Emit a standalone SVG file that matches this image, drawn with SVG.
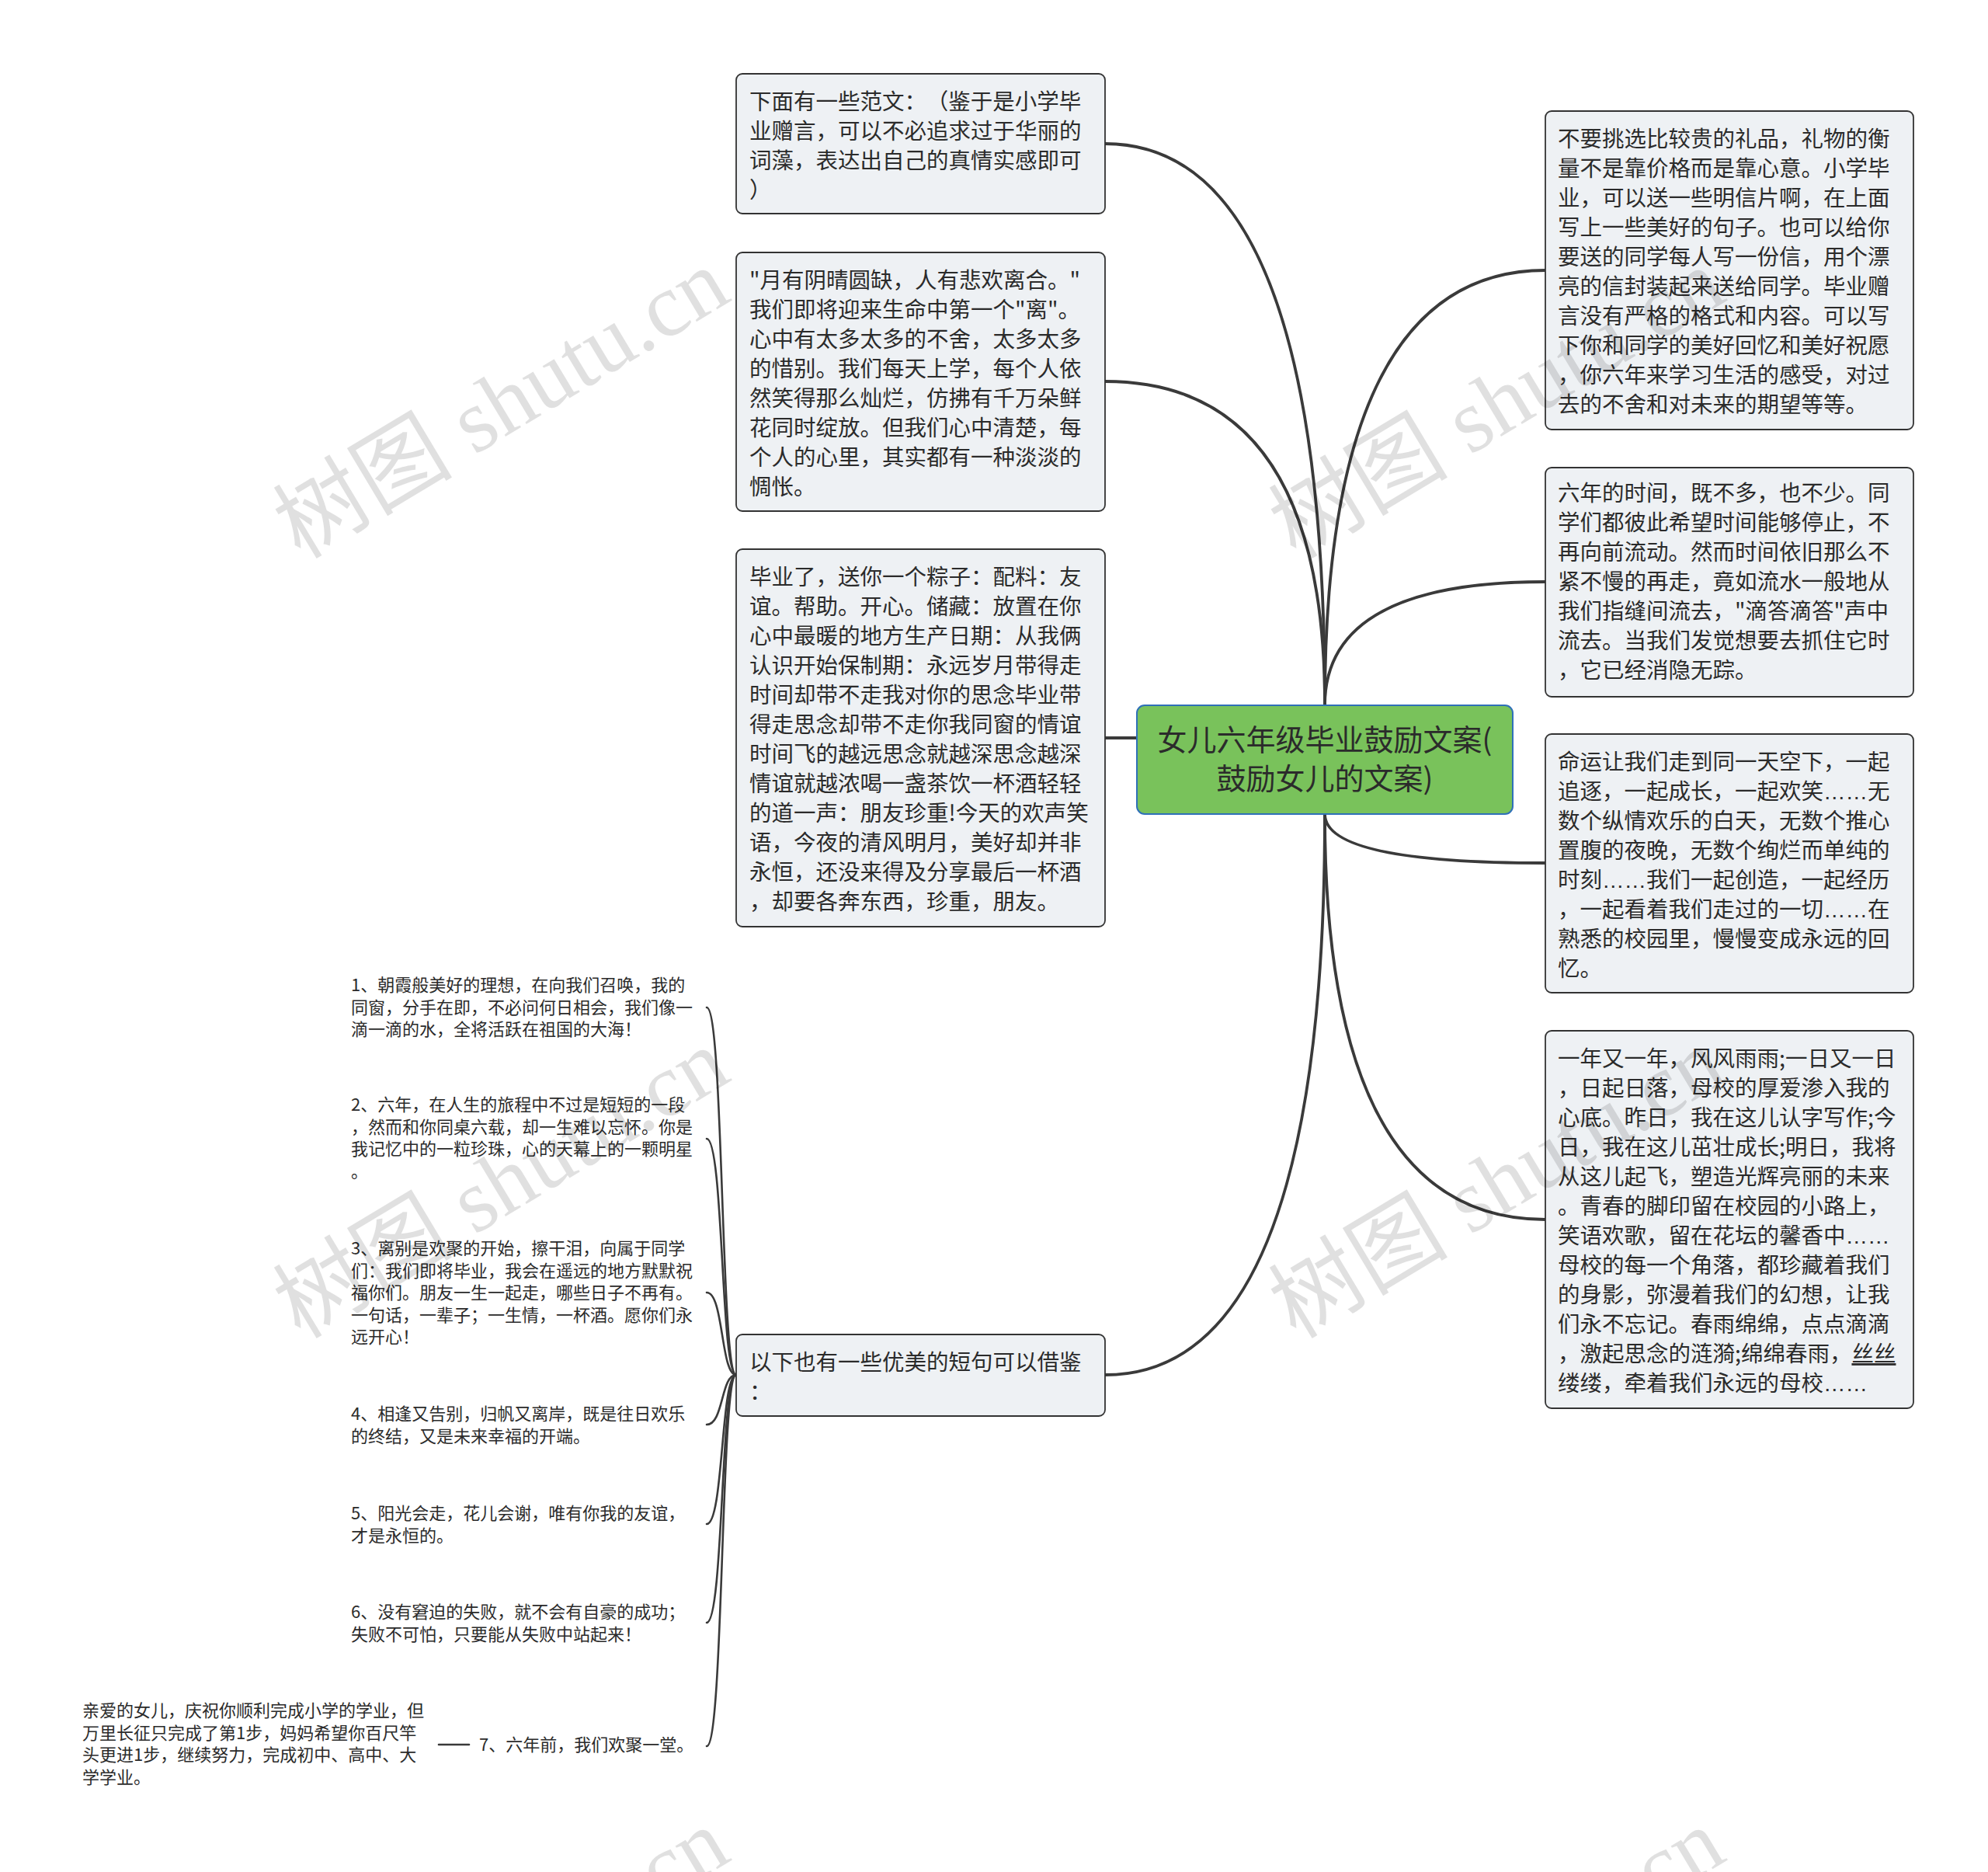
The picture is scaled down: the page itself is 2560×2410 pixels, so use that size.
<svg xmlns="http://www.w3.org/2000/svg" width="2560" height="2410" viewBox="0 0 2560 2410">
<style>
.bg{fill:#ffffff}
.box{fill:#eef1f4;stroke:#333333;stroke-width:1.8}
.root{fill:#79c25b;stroke:#2f70b8;stroke-width:2}
.t{font-family:"Noto Sans CJK SC","Noto Sans",sans-serif;font-size:28.5px;fill:#2b2b2b}
.rt{font-family:"Noto Sans CJK SC","Noto Sans",sans-serif;font-size:38px;fill:#2b2b2b;text-anchor:middle}
.s{font-family:"Noto Sans CJK SC","Noto Sans",sans-serif;font-size:22px;fill:#2b2b2b}
.el{font-family:"Liberation Sans",sans-serif}
.main{fill:none;stroke:#3a3a3a;stroke-width:3.8;stroke-linecap:round}
.sub{fill:none;stroke:#3a3a3a;stroke-width:2.6;stroke-linecap:round}
.wm{font-family:"Liberation Serif","Noto Sans CJK SC",serif;font-size:116px;fill:#000000;fill-opacity:0.12;text-anchor:middle}
</style>
<rect class="bg" x="0" y="0" width="2560" height="2410"/>
<g id="connectors">
<path class="main" d="M1706 908 Q1706 185 1423 185"/>
<path class="main" d="M1706 908 Q1706 491 1423 491"/>
<path class="main" d="M1706 950 L1423 950"/>
<path class="main" d="M1706 1048 Q1706 1770 1423 1770"/>
<path class="main" d="M1706 908 Q1706 348 1990 348"/>
<path class="main" d="M1706 908 Q1706 749 1990 749"/>
<path class="main" d="M1706 1048 Q1706 1111 1990 1111"/>
<path class="main" d="M1706 1048 Q1706 1570 1990 1570"/>
<path class="sub" d="M948 1770 C928 1770 932 1297 910 1297"/>
<path class="sub" d="M948 1770 C928 1770 932 1466 910 1466"/>
<path class="sub" d="M948 1770 C928 1770 932 1664 910 1664"/>
<path class="sub" d="M948 1770 C928 1770 932 1834 910 1834"/>
<path class="sub" d="M948 1770 C928 1770 932 1962 910 1962"/>
<path class="sub" d="M948 1770 C928 1770 932 2089 910 2089"/>
<path class="sub" d="M948 1770 C928 1770 932 2248 910 2248"/>
<path class="sub" d="M565 2246 L604 2246"/>
</g>
<g id="root">
<rect class="root" x="1464" y="908" width="484" height="140" rx="10"/>
<text class="rt" x="1706" y="966">女儿六年级毕业鼓励文案(</text>
<text class="rt" x="1706" y="1016">鼓励女儿的文案)</text>
</g>
<g id="n1">
<rect class="box" x="948" y="95" width="475" height="180" rx="8"/>
<text class="t" x="965" y="141"><tspan x="965">下面有一些范文：</tspan><tspan dx="14">（鉴于是小学毕</tspan><tspan x="965" dy="38">业赠言，可以不必追求过于华丽的</tspan><tspan x="965" dy="38">词藻，表达出自己的真情实感即可</tspan><tspan x="965" dy="38">）</tspan></text>
</g>
<g id="n2">
<rect class="box" x="948" y="325" width="475" height="333" rx="8"/>
<text class="t" x="965" y="371"><tspan x="965">"月有阴晴圆缺，人有悲欢离合。"</tspan><tspan x="965" dy="38">我们即将迎来生命中第一个"离"。</tspan><tspan x="965" dy="38">心中有太多太多的不舍，太多太多</tspan><tspan x="965" dy="38">的惜别。我们每天上学，每个人依</tspan><tspan x="965" dy="38">然笑得那么灿烂，仿拂有千万朵鲜</tspan><tspan x="965" dy="38">花同时绽放。但我们心中清楚，每</tspan><tspan x="965" dy="38">个人的心里，其实都有一种淡淡的</tspan><tspan x="965" dy="38">惆怅。</tspan></text>
</g>
<g id="n3">
<rect class="box" x="948" y="707" width="475" height="486" rx="8"/>
<text class="t" x="965" y="753"><tspan x="965">毕业了，送你一个粽子：配料：友</tspan><tspan x="965" dy="38">谊。帮助。开心。储藏：放置在你</tspan><tspan x="965" dy="38">心中最暖的地方生产日期：从我俩</tspan><tspan x="965" dy="38">认识开始保制期：永远岁月带得走</tspan><tspan x="965" dy="38">时间却带不走我对你的思念毕业带</tspan><tspan x="965" dy="38">得走思念却带不走你我同窗的情谊</tspan><tspan x="965" dy="38">时间飞的越远思念就越深思念越深</tspan><tspan x="965" dy="38">情谊就越浓喝一盏茶饮一杯酒轻轻</tspan><tspan x="965" dy="38">的道一声：朋友珍重!今天的欢声笑</tspan><tspan x="965" dy="38">语，今夜的清风明月，美好却并非</tspan><tspan x="965" dy="38">永恒，还没来得及分享最后一杯酒</tspan><tspan x="965" dy="38">，却要各奔东西，珍重，朋友。</tspan></text>
</g>
<g id="n4">
<rect class="box" x="948" y="1718" width="475" height="105" rx="8"/>
<text class="t" x="965" y="1764"><tspan x="965">以下也有一些优美的短句可以借鉴</tspan><tspan x="965" dy="38">：</tspan></text>
</g>
<g id="r1">
<rect class="box" x="1990" y="143" width="474" height="410" rx="8"/>
<text class="t" x="2006" y="189"><tspan x="2006">不要挑选比较贵的礼品，礼物的衡</tspan><tspan x="2006" dy="38">量不是靠价格而是靠心意。小学毕</tspan><tspan x="2006" dy="38">业，可以送一些明信片啊，在上面</tspan><tspan x="2006" dy="38">写上一些美好的句子。也可以给你</tspan><tspan x="2006" dy="38">要送的同学每人写一份信，用个漂</tspan><tspan x="2006" dy="38">亮的信封装起来送给同学。毕业赠</tspan><tspan x="2006" dy="38">言没有严格的格式和内容。可以写</tspan><tspan x="2006" dy="38">下你和同学的美好回忆和美好祝愿</tspan><tspan x="2006" dy="38">，你六年来学习生活的感受，对过</tspan><tspan x="2006" dy="38">去的不舍和对未来的期望等等。</tspan></text>
</g>
<g id="r2">
<rect class="box" x="1990" y="602" width="474" height="295" rx="8"/>
<text class="t" x="2006" y="645"><tspan x="2006">六年的时间，既不多，也不少。同</tspan><tspan x="2006" dy="38">学们都彼此希望时间能够停止，不</tspan><tspan x="2006" dy="38">再向前流动。然而时间依旧那么不</tspan><tspan x="2006" dy="38">紧不慢的再走，竟如流水一般地从</tspan><tspan x="2006" dy="38">我们指缝间流去，"滴答滴答"声中</tspan><tspan x="2006" dy="38">流去。当我们发觉想要去抓住它时</tspan><tspan x="2006" dy="38">，它已经消隐无踪。</tspan></text>
</g>
<g id="r3">
<rect class="box" x="1990" y="945" width="474" height="333" rx="8"/>
<text class="t" x="2006" y="991"><tspan x="2006">命运让我们走到同一天空下，一起</tspan><tspan x="2006" dy="38">追逐，一起成长，一起欢笑<tspan class="el">……</tspan>无</tspan><tspan x="2006" dy="38">数个纵情欢乐的白天，无数个推心</tspan><tspan x="2006" dy="38">置腹的夜晚，无数个绚烂而单纯的</tspan><tspan x="2006" dy="38">时刻<tspan class="el">……</tspan>我们一起创造，一起经历</tspan><tspan x="2006" dy="38">，一起看着我们走过的一切<tspan class="el">……</tspan>在</tspan><tspan x="2006" dy="38">熟悉的校园里，慢慢变成永远的回</tspan><tspan x="2006" dy="38">忆。</tspan></text>
</g>
<g id="r4">
<rect class="box" x="1990" y="1327" width="474" height="486" rx="8"/>
<text class="t" x="2006" y="1373"><tspan x="2006">一年又一年，风风雨雨;一日又一日</tspan><tspan x="2006" dy="38">，日起日落，母校的厚爱渗入我的</tspan><tspan x="2006" dy="38">心底。昨日，我在这儿认字写作;今</tspan><tspan x="2006" dy="38">日，我在这儿茁壮成长;明日，我将</tspan><tspan x="2006" dy="38">从这儿起飞，塑造光辉亮丽的未来</tspan><tspan x="2006" dy="38">。青春的脚印留在校园的小路上，</tspan><tspan x="2006" dy="38">笑语欢歌，留在花坛的馨香中<tspan class="el">……</tspan></tspan><tspan x="2006" dy="38">母校的每一个角落，都珍藏着我们</tspan><tspan x="2006" dy="38">的身影，弥漫着我们的幻想，让我</tspan><tspan x="2006" dy="38">们永不忘记。春雨绵绵，点点滴滴</tspan><tspan x="2006" dy="38">，激起思念的涟漪;绵绵春雨，<tspan text-decoration="underline">丝丝</tspan></tspan><tspan x="2006" dy="38">缕缕，牵着我们永远的母校<tspan class="el">……</tspan></tspan></text>
</g>
<g id="i1">
<text class="s" x="452" y="1276"><tspan x="452">1、朝霞般美好的理想，在向我们召唤，我的</tspan><tspan x="452" dy="28.5">同窗，分手在即，不必问何日相会，我们像一</tspan><tspan x="452" dy="28.5">滴一滴的水，全将活跃在祖国的大海！</tspan></text>
</g>
<g id="i2">
<text class="s" x="452" y="1430"><tspan x="452">2、六年，在人生的旅程中不过是短短的一段</tspan><tspan x="452" dy="28.5">，然而和你同桌六载，却一生难以忘怀。你是</tspan><tspan x="452" dy="28.5">我记忆中的一粒珍珠，心的天幕上的一颗明星</tspan><tspan x="452" dy="28.5">。</tspan></text>
</g>
<g id="i3">
<text class="s" x="452" y="1615"><tspan x="452">3、离别是欢聚的开始，擦干泪，向属于同学</tspan><tspan x="452" dy="28.5">们：我们即将毕业，我会在遥远的地方默默祝</tspan><tspan x="452" dy="28.5">福你们。朋友一生一起走，哪些日子不再有。</tspan><tspan x="452" dy="28.5">一句话，一辈子；一生情，一杯酒。愿你们永</tspan><tspan x="452" dy="28.5">远开心！</tspan></text>
</g>
<g id="i4">
<text class="s" x="452" y="1828"><tspan x="452">4、相逢又告别，归帆又离岸，既是往日欢乐</tspan><tspan x="452" dy="28.5">的终结，又是未来幸福的开端。</tspan></text>
</g>
<g id="i5">
<text class="s" x="452" y="1956"><tspan x="452">5、阳光会走，花儿会谢，唯有你我的友谊，</tspan><tspan x="452" dy="28.5">才是永恒的。</tspan></text>
</g>
<g id="i6">
<text class="s" x="452" y="2083"><tspan x="452">6、没有窘迫的失败，就不会有自豪的成功；</tspan><tspan x="452" dy="28.5">失败不可怕，只要能从失败中站起来！</tspan></text>
</g>
<g id="i7">
<text class="s" x="617" y="2254">7、六年前，我们欢聚一堂。</text>
</g>
<g id="i7a">
<text class="s" x="106" y="2210"><tspan x="106">亲爱的女儿，庆祝你顺利完成小学的学业，但</tspan><tspan x="106" dy="28.5">万里长征只完成了第1步，妈妈希望你百尺竿</tspan><tspan x="106" dy="28.5">头更进1步，继续努力，完成初中、高中、大</tspan><tspan x="106" dy="28.5">学学业。</tspan></text>
</g>
<g id="watermarks">
<text class="wm" transform="translate(645 519) rotate(-31)" y="40">树图 shutu.cn</text>
<text class="wm" transform="translate(1927 519) rotate(-31)" y="40">树图 shutu.cn</text>
<text class="wm" transform="translate(645 1523) rotate(-31)" y="40">树图 shutu.cn</text>
<text class="wm" transform="translate(1927 1523) rotate(-31)" y="40">树图 shutu.cn</text>
<text class="wm" transform="translate(645 2527) rotate(-31)" y="40">树图 shutu.cn</text>
<text class="wm" transform="translate(1927 2527) rotate(-31)" y="40">树图 shutu.cn</text>
</g>
</svg>
